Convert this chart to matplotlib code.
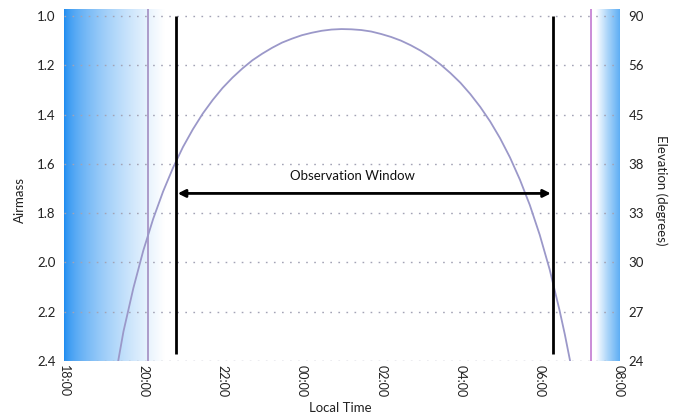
import numpy as np
import pandas as pd
import matplotlib
matplotlib.use("Agg")
import matplotlib.pyplot as plt
import matplotlib.dates as mdates
from matplotlib.colors import LinearSegmentedColormap

plt.rcParams['font.family'] = ['Lato', 'DejaVu Sans']

# ---- data -------------------------------------------------------------
curve_times = ["19:22", "19:30", "19:45", "20:00", "20:15", "20:30", "20:45",
               "21:00", "21:15", "21:30", "21:45", "22:00", "22:15", "22:30",
               "22:45", "23:00", "23:15", "23:30", "23:45", "00:00", "00:15",
               "00:30", "00:45", "01:00", "01:15", "01:30", "01:45", "02:00",
               "02:15", "02:30", "02:45", "03:00", "03:15", "03:30", "03:45",
               "04:00", "04:15", "04:30", "04:45", "05:00", "05:15", "05:30",
               "05:45", "06:00", "06:15", "06:30", "06:38", "06:46"]
curve_airmass = [2.400, 2.280, 2.104, 1.952, 1.823, 1.712, 1.616,
                 1.532, 1.460, 1.396, 1.341, 1.292, 1.250, 1.213,
                 1.180, 1.153, 1.129, 1.108, 1.092, 1.078, 1.068,
                 1.060, 1.055, 1.053, 1.054, 1.057, 1.063, 1.073,
                 1.085, 1.100, 1.119, 1.141, 1.167, 1.197, 1.232,
                 1.271, 1.317, 1.369, 1.428, 1.496, 1.574, 1.664,
                 1.767, 1.888, 2.028, 2.194, 2.292, 2.400]

airmass_ticks = [1.0, 1.2, 1.4, 1.6, 1.8, 2.0, 2.2, 2.4]
elevation_labels = ["90", "56", "45", "38", "33", "30", "27", "24"]
time_ticks = ["18:00", "20:00", "22:00", "00:00", "02:00", "04:00", "06:00", "08:00"]

sunset_line = "20:07"
sunrise_line = "07:17"
window_start = "20:49"
window_end = "06:20"
evening_twilight = ("18:00", "20:32")
morning_twilight = ("07:25", "08:00")

window_top, window_bottom = 1.0, 2.37
arrow_level = 1.72
label_time, label_level = "01:16", 1.675


def to_num(hhmm):
    h, m = map(int, hhmm.split(":"))
    day = "2024-01-01" if h >= 12 else "2024-01-02"
    return mdates.date2num(pd.Timestamp(f"{day} {hhmm}"))


# ---- figure -----------------------------------------------------------
fig = plt.figure(figsize=(6.82, 4.16), dpi=100)
ax = fig.add_axes([64 / 682, 1 - 361 / 416, (619 - 64) / 682, (361 - 9) / 416])

x0, x1 = to_num(time_ticks[0]), to_num(time_ticks[-1])
ymin_top = 0.9716
ax.set_xlim(x0, x1)
ax.set_ylim(2.4, ymin_top)

# twilight shading
grad = np.linspace(0, 1, 256)[None, :]
left_cmap = LinearSegmentedColormap.from_list("dusk", ["#1a8af0", "#ffffff"])
ax.imshow(grad ** 0.6, cmap=left_cmap, aspect="auto", zorder=0, vmin=0, vmax=1,
          extent=[to_num(evening_twilight[0]), to_num(evening_twilight[1]), 2.4, ymin_top])
right_cmap = LinearSegmentedColormap.from_list("dawn", ["#ffffff", "#a9d4f9", "#5eaef4"])
ax.imshow(grad, cmap=right_cmap, aspect="auto", zorder=0,
          extent=[to_num(morning_twilight[0]), to_num(morning_twilight[1]), 2.4, ymin_top])

# dotted horizontal grid
for a in airmass_ticks:
    ax.axhline(a, color="#a3a3b5", lw=1.0, ls=(0, (1.2, 4.6)), zorder=1)

# sun lines
ax.axvline(to_num(sunset_line), color="#9c84bd", lw=1.1, zorder=2)
ax.axvline(to_num(sunrise_line), color="#c784d4", lw=1.3, zorder=2)

# airmass curve
ax.plot([to_num(t) for t in curve_times], curve_airmass, color="#9b98c9", lw=1.3,
        solid_joinstyle="round", zorder=3)

# observation window
for t in (window_start, window_end):
    ax.plot([to_num(t), to_num(t)], [window_top, window_bottom], color="black",
            lw=2.0, solid_capstyle="butt", zorder=4)
ax.annotate("", xy=(to_num(window_end), arrow_level), xytext=(to_num(window_start), arrow_level),
            arrowprops=dict(arrowstyle="<|-|>", color="black", lw=2.0,
                            mutation_scale=11, shrinkA=1.5, shrinkB=1.5), zorder=4)
ax.text(to_num(label_time), label_level, "Observation Window", ha="center", va="bottom",
        fontsize=9.5, color="#111111", zorder=5)

# axes styling
for s in ax.spines.values():
    s.set_visible(False)
ax.set_yticks(airmass_ticks)
ax.set_yticklabels([f"{a:.1f}" for a in airmass_ticks], fontsize=9.5, color="#222222")
ax.set_xticks([to_num(t) for t in time_ticks])
ax.set_xticklabels(time_ticks, rotation=270, fontsize=9, color="#222222")
ax.tick_params(axis="both", length=0)
ax.tick_params(axis="y", pad=6)
ax.tick_params(axis="x", pad=3)

ax2 = ax.twinx()
ax2.set_ylim(ax.get_ylim())
ax2.set_yticks(airmass_ticks)
ax2.set_yticklabels(elevation_labels, fontsize=9.5, color="#222222")
ax2.tick_params(axis="y", length=0, pad=7)
for s in ax2.spines.values():
    s.set_visible(False)

fig.text(20 / 682, 1 - 200 / 416, "Airmass", rotation=90, ha="center", va="center",
         fontsize=9.5, color="#222222")
fig.text(661 / 682, 1 - 190 / 416, "Elevation (degrees)", rotation=270, ha="center",
         va="center", fontsize=9.5, color="#222222")
fig.text(340 / 682, 1 - 408 / 416, "Local Time", ha="center", va="center",
         fontsize=9.5, color="#222222")

fig.savefig("out.png", dpi=100)
